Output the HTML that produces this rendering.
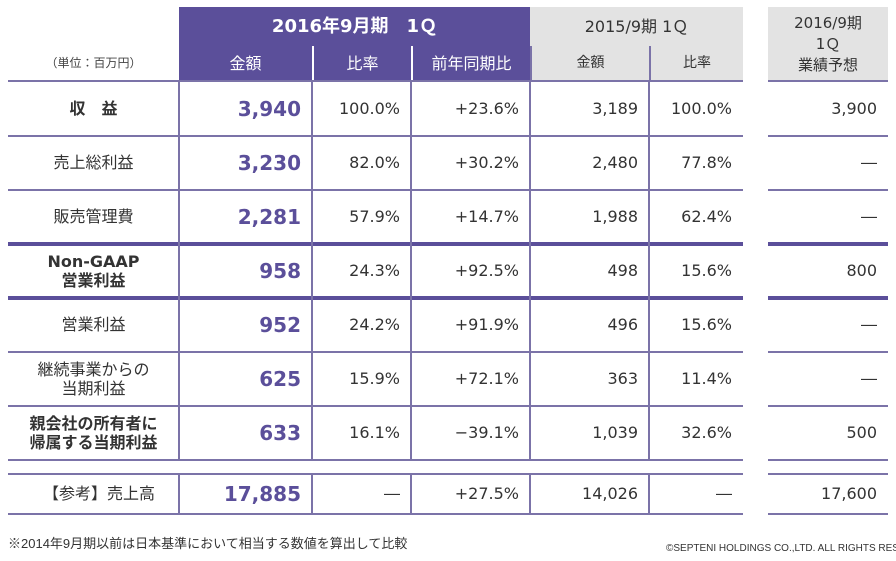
<!DOCTYPE html>
<html><head><meta charset="utf-8">
<style>
body{margin:0;width:896px;height:561px;background:#fff;position:relative;overflow:hidden;font-family:"DejaVu Sans","Noto Sans CJK JP",sans-serif;color:#333}
div{position:absolute;box-sizing:border-box}
.c{display:flex;align-items:center;line-height:1.2}
</style></head><body>
<div class="c" style="left:179px;top:7px;width:351px;height:39px;background:#5b4f9a;color:#fff;font-weight:bold;font-size:18px;justify-content:center;">2016年9月期　1Ｑ</div>
<div class="c" style="left:530px;top:7px;width:213px;height:39px;background:#e3e3e3;font-size:16px;justify-content:center;">2015/9期 1Ｑ</div>
<div class="c" style="left:768px;top:7px;width:120px;height:74px;background:#e3e3e3;font-size:15px;justify-content:center;text-align:center;line-height:21px">2016/9期<br>1Ｑ<br>業績予想</div>
<div class="c" style="left:8px;top:46px;width:171px;height:35px;font-size:12px;justify-content:center;color:#444">（単位：百万円）</div>
<script>
const subHeads=["金額","比率","前年同期比","金額","比率"];
const colX=[179,312,411,530,649,743];
const labels=["収　益","売上総利益","販売管理費","Non-GAAP<br>営業利益","営業利益","継続事業からの<br>当期利益","親会社の所有者に<br>帰属する当期利益","【参考】売上高"];
const boldLabel=[true,false,false,true,false,false,true,false];
const amount=["3,940","3,230","2,281","958","952","625","633","17,885"];
const ratio=["100.0%","82.0%","57.9%","24.3%","24.2%","15.9%","16.1%","―"];
const yoy=["+23.6%","+30.2%","+14.7%","+92.5%","+91.9%","+72.1%","−39.1%","+27.5%"];
const prevAmt=["3,189","2,480","1,988","498","496","363","1,039","14,026"];
const prevRatio=["100.0%","77.8%","62.4%","15.6%","15.6%","11.4%","32.6%","―"];
const forecast=["3,900","―","―","800","―","―","500","17,600"];
const rowY=[81,136,190,244,298,352,406,474];
const rowH=[55,54,54,54,54,54,54,40];
function mk(name,style,html){const d=document.createElement('div');d.setAttribute('style',style);d.innerHTML=html||'';


document.body.appendChild(d);return d;}
subHeads.forEach((t,i)=>{const purple=i<3;const d=mk('subheader-'+i,`left:${colX[i]}px;top:46px;width:${colX[i+1]-colX[i]}px;height:35px;background:${purple?'#5b4f9a':'#e3e3e3'};color:${purple?'#fff':'#333'};font-size:${purple?16:14}px;justify-content:center;border-left:${i>0?'2px solid '+(purple?'#fff':'#7b73a8'):'none'}`,t);d.className='c';});
labels.forEach((l,r)=>{
 const y=rowY[r],h=rowH[r];
 const cells=[[amount[r],colX[0],colX[1],'#5b4f9a',20,true],[ratio[r],colX[1],colX[2],'#333',16,false],[yoy[r],colX[2],colX[3],'#333',16,false],[prevAmt[r],colX[3],colX[4],'#333',16,false],[prevRatio[r],colX[4],colX[5],'#333',16,false],[forecast[r],768,888,'#333',16,false]];
 let d=mk('row-label-'+r,`left:8px;top:${y}px;width:171px;height:${h}px;justify-content:center;text-align:center;font-size:16px;font-weight:${boldLabel[r]?'bold':'normal'};line-height:1.2`,l);d.className='c';
 if(r==7){d.style.justifyContent='flex-end';d.style.paddingRight='24px';}
 cells.forEach((c,i)=>{const e=mk('cell-'+r+'-'+i,`left:${c[1]}px;top:${y}px;width:${c[2]-c[1]}px;height:${h}px;justify-content:flex-end;padding-right:11px;color:${c[3]};font-size:${c[4]}px;font-weight:${c[5]?'bold':'normal'}`,c[0]);e.className='c';});
});
const hLines=[81,136,190,244,298,352,406,460,474,514];
const thick=[244,298];
hLines.forEach((y,i)=>{const t=thick.includes(y)?4:2;const col=thick.includes(y)?'#5b4f9a':'#7b73a8';
 mk('h-line-'+i,`left:8px;top:${y-t/2}px;width:735px;height:${t}px;background:${col}`);
 mk('h-line-fc-'+i,`left:768px;top:${y-t/2}px;width:120px;height:${t}px;background:${col}`);});
colX.slice(0,5).forEach((x,i)=>{mk('v-line-'+i,`left:${x-1}px;top:81px;width:2px;height:379px;background:#7b73a8`);mk('v-line-b-'+i,`left:${x-1}px;top:474px;width:2px;height:40px;background:#7b73a8`);});
</script>
<div style="left:8px;top:533px;font-size:13px;color:#333;font-family:'Liberation Sans','Noto Sans CJK JP',sans-serif">※2014年9月期以前は日本基準において相当する数値を算出して比較</div>
<div style="left:666px;top:543px;font-size:10px;color:#333;white-space:nowrap;font-family:'Liberation Sans',sans-serif">©SEPTENI HOLDINGS CO.,LTD. ALL RIGHTS RESERVED</div>
</body></html>
